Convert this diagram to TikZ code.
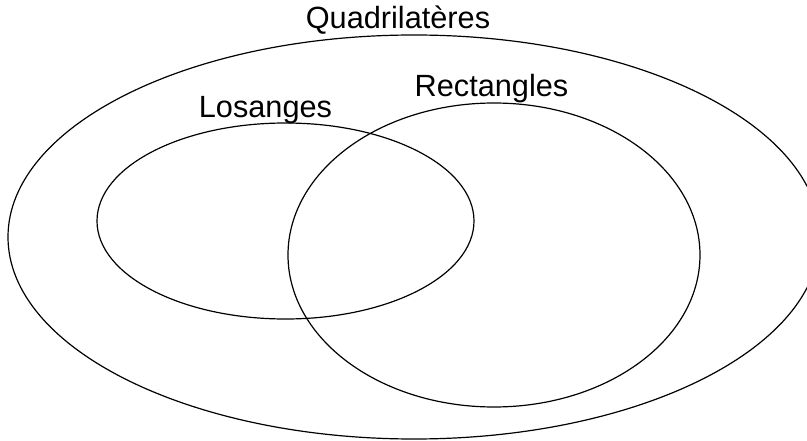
\documentclass[tikz,border=0pt]{standalone}
\usepackage{fontspec}
\setmainfont{Liberation Sans}
\begin{document}
\begin{tikzpicture}[x=1pt,y=-1pt,
  setline/.style={draw=black,line width=1.2pt},
  lbl/.style={anchor=base,inner sep=0pt,font=\fontsize{30.7}{36}\selectfont}]
\useasboundingbox (0,0) rectangle (807,441);
\begin{scope}
\clip (0,0) rectangle (807,441);
\draw[setline] (414,237) ellipse [x radius=406, y radius=202];
\end{scope}
\draw[setline] (285.5,221) ellipse [x radius=188.5, y radius=98];
\draw[setline] (494,255) ellipse [x radius=206, y radius=152];
\node[lbl] (quad) at (398,29) {Quadrilatères};
\node[lbl] (los) at (265.5,118) {Losanges};
\node[lbl] (rect) at (491.5,97) {Rectangles};
\end{tikzpicture}
\end{document}
